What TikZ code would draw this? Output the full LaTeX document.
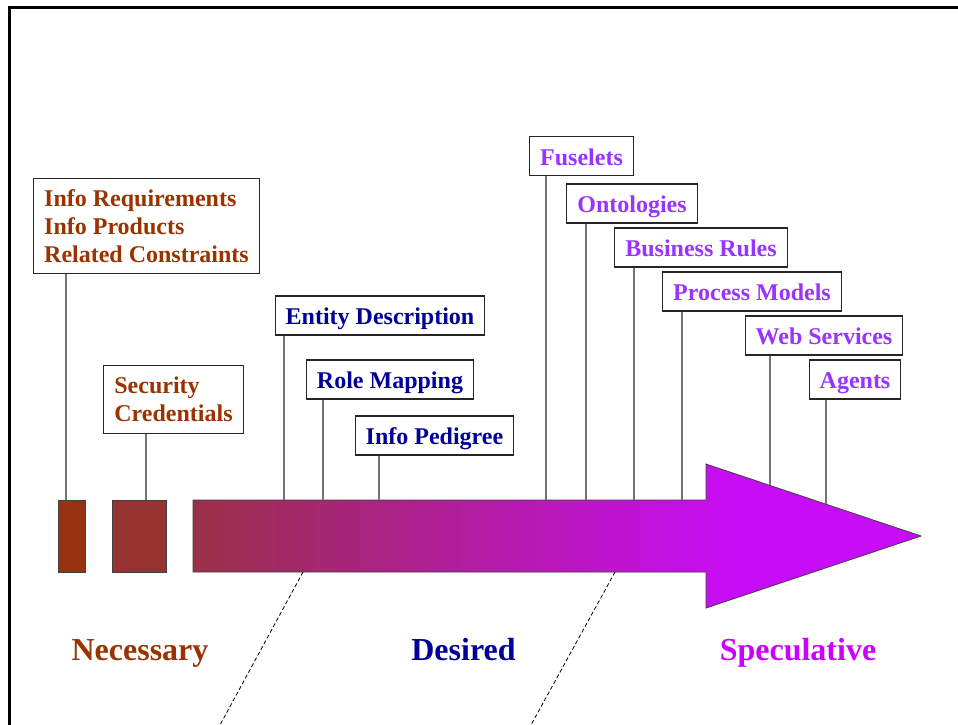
\documentclass[tikz,border=0pt]{standalone}
\usepackage{fontspec}
\setmainfont{Liberation Serif}
\usepackage{xcolor}
\usepackage{tikz}
\usetikzlibrary{positioning}

\definecolor{needc}{RGB}{153,51,0}
\definecolor{wantc}{RGB}{0,0,153}
\definecolor{maybec}{RGB}{153,51,255}
\definecolor{specc}{RGB}{204,0,255}
\definecolor{barA}{RGB}{152,50,18}
\definecolor{barB}{RGB}{150,50,48}
\definecolor{arrowL}{RGB}{155,48,72}
\definecolor{arrowR}{RGB}{200,12,245}
\pgfdeclarehorizontalshading{trend}{100bp}{color(0bp)=(arrowL); color(25bp)=(arrowL); color(62bp)=(arrowR); color(100bp)=(arrowR)}

\begin{document}
\begin{tikzpicture}[x=1pt, y=-1pt,
  frame/.style={line width=3pt},
  tag/.style={draw=black!85, fill=white, line width=1.2pt, font=\fontsize{24}{28}\selectfont\bfseries, inner xsep=10.5pt, inner ysep=8.5pt},
  one/.style={tag, text height=20pt, text depth=2pt},
  need/.style={text=needc},
  want/.style={text=wantc},
  maybe/.style={text=maybec},
  pole/.style={draw=black!55, line width=1.2pt},
  block/.style={draw=black!75, line width=1pt},
  cut/.style={draw, dash pattern=on 4pt off 2.5pt, line width=0.8pt},
  phase/.style={anchor=base, font=\fontsize{32}{36}\selectfont\bfseries}
]
\useasboundingbox (0,0) rectangle (958,725);

% Frame
\draw[frame] (9,725) -- (9,8) -- (958,8);

% Bars and arrow
\path[block, fill=barA] (58,500) rectangle (85,572);
\path[block, fill=barB] (112,500) rectangle (166,572);
\path[block, shading=trend, line width=0.8pt]
  (193,500) -- (706,500) -- (706,464) -- (921,536) -- (706,608) -- (706,572) -- (193,572) -- cycle;

% Anchor points on the arrow
\coordinate (r1) at (66,500);
\coordinate (s1) at (146,500);
\coordinate (e1) at (284,500);
\coordinate (m1) at (323,500);
\coordinate (p1) at (379,500);
\coordinate (f1) at (546,500);
\coordinate (o1) at (586,500);
\coordinate (b1) at (634,500);
\coordinate (pm1) at (682,500);
\coordinate (w1) at (770,485);
\coordinate (a1) at (826,504);

% Necessary
\node[tag, need, align=left, minimum height=95pt] (req) at (146.5,226) {Info Requirements\\Info Products\\Related Constraints};
\node[tag, need, align=left, minimum height=68pt] (sec) at (173.5,399.5) {Security\\Credentials};

% Desired
\node[one, want] (ent) at (380,315.5) {Entity Description};
\node[one, want] (role) at (390,379.5) {Role Mapping};
\node[one, want] (ped) at (434.5,435.5) {Info Pedigree};

% Speculative
\node[one, maybe] (fus) at (581.5,156) {Fuselets};
\node[one, maybe] (ont) at (632,203.5) {Ontologies};
\node[one, maybe] (bus) at (701,247.5) {Business Rules};
\node[one, maybe] (proc) at (752,291.5) {Process Models};
\node[one, maybe] (web) at (824,335.5) {Web Services};
\node[one, maybe] (agt) at (855,379.5) {Agents};

% Poles
\draw[pole] (req.south -| r1) -- (r1);
\draw[pole] (sec.south -| s1) -- (s1);
\draw[pole] (ent.south -| e1) -- (e1);
\draw[pole] (role.south -| m1) -- (m1);
\draw[pole] (ped.south -| p1) -- (p1);
\draw[pole] (fus.south -| f1) -- (f1);
\draw[pole] (ont.south -| o1) -- (o1);
\draw[pole] (bus.south -| b1) -- (b1);
\draw[pole] (proc.south -| pm1) -- (pm1);
\draw[pole] (web.south -| w1) -- (w1);
\draw[pole] (agt.south -| a1) -- (a1);

% Phase borders
\coordinate (c1) at (303,572);
\coordinate (c2) at (615,572);
\coordinate (c1end) at (220,725);
\coordinate (c2end) at (531,725);
\draw[cut] (c1) -- (c1end);
\draw[cut] (c2) -- (c2end);

% Phase labels
\node[phase, text=needc] (nec) at (140,660) {Necessary};
\node[phase, text=wantc] (des) at (463.5,660) {Desired};
\node[phase, text=specc] (spe) at (798,660) {Speculative};

\end{tikzpicture}
\end{document}
